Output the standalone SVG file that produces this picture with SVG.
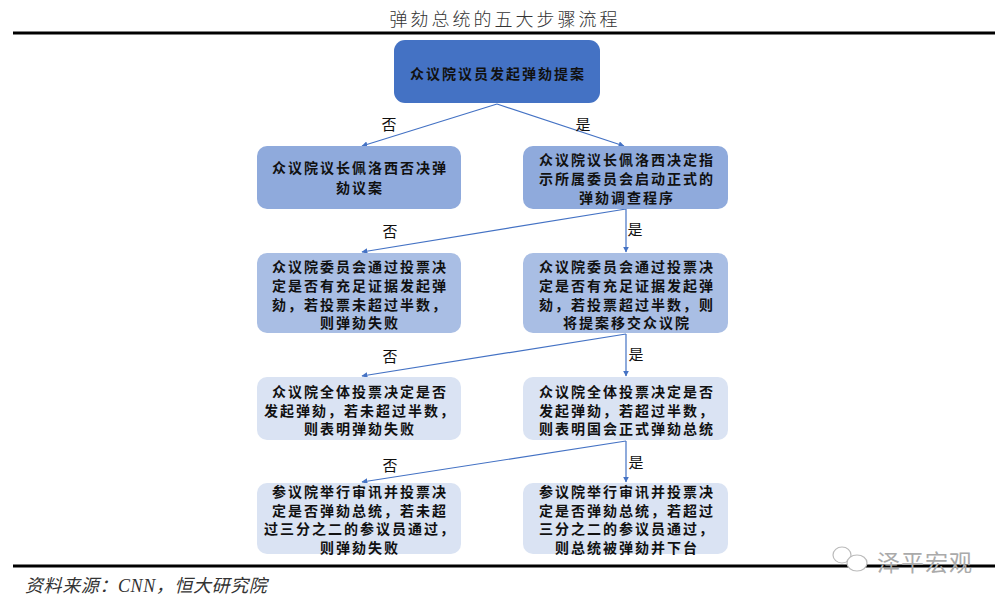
<svg xmlns="http://www.w3.org/2000/svg" width="1006" height="605" viewBox="0 0 1006 605">
<style>
.t{font-family:"Noto Sans CJK SC","Noto Sans",sans-serif;font-weight:700;font-size:14px;letter-spacing:2px;fill:#111;text-anchor:middle}
.lbl{font-family:"Noto Sans CJK SC",sans-serif;font-size:15px;fill:#111;text-anchor:middle}
.e{stroke:#4472C4;stroke-width:1.2;fill:none;marker-end:url(#ah)}
</style>
<defs>
<marker id="ah" viewBox="0 0 10 10" refX="9" refY="5" markerWidth="6" markerHeight="6" orient="auto" markerUnits="userSpaceOnUse">
<path d="M0,0 L10,5 L0,10 z" fill="#4472C4"/>
</marker>
</defs>
<rect width="1006" height="605" fill="#fff"/>
<text x="505" y="26" font-family="'Noto Sans CJK SC',sans-serif" font-size="18" font-weight="300" letter-spacing="3" fill="#333" text-anchor="middle">弹劾总统的五大步骤流程</text>
<line x1="13" y1="33" x2="995" y2="33" stroke="#000" stroke-width="3"/>
<line x1="13" y1="566" x2="995" y2="566" stroke="#000" stroke-width="3"/>

<g id="connectors">
<path class="e" d="M497,104 L362,146"/>
<path class="e" d="M497,104 L624,146"/>
<path class="e" d="M626,209 L362,252"/>
<path class="e" d="M626,209 L626,252"/>
<path class="e" d="M626,334 L362,376"/>
<path class="e" d="M626,334 L626,376"/>
<path class="e" d="M626,441 L362,482"/>
<path class="e" d="M626,441 L626,482"/>
<text class="lbl" x="389" y="130">否</text>
<text class="lbl" x="583" y="130">是</text>
<text class="lbl" x="390" y="237">否</text>
<text class="lbl" x="635" y="235">是</text>
<text class="lbl" x="390" y="362">否</text>
<text class="lbl" x="636" y="360">是</text>
<text class="lbl" x="390" y="471">否</text>
<text class="lbl" x="636" y="468">是</text>
</g>

<g id="n0">
<rect x="394" y="40" width="206" height="63" rx="11" fill="#4472C4"/>
<text class="t" x="498" y="79" font-size="15">众议院议员发起弹劾提案</text>
</g>
<g id="n1">
<rect x="257" y="146" width="204" height="63" rx="10" fill="#8FAADC"/>
<text class="t" x="360" y="173">众议院议长佩洛西否决弹</text>
<text class="t" x="360" y="193">劾议案</text>
</g>
<g id="n2">
<rect x="523" y="146" width="205" height="63" rx="10" fill="#8FAADC"/>
<text class="t" x="627" y="165">众议院议长佩洛西决定指</text>
<text class="t" x="627" y="184">示所属委员会启动正式的</text>
<text class="t" x="627" y="203">弹劾调查程序</text>
</g>
<g id="n3">
<rect x="257" y="253" width="204" height="80" rx="10" fill="#A9BEE4"/>
<text class="t" x="360" y="272">众议院委员会通过投票决</text>
<text class="t" x="360" y="291">定是否有充足证据发起弹</text>
<text class="t" x="360" y="310">劾，若投票未超过半数，</text>
<text class="t" x="360" y="328">则弹劾失败</text>
</g>
<g id="n4">
<rect x="523" y="253" width="205" height="80" rx="10" fill="#A9BEE4"/>
<text class="t" x="627" y="272">众议院委员会通过投票决</text>
<text class="t" x="627" y="291">定是否有充足证据发起弹</text>
<text class="t" x="627" y="310">劾，若投票超过半数，则</text>
<text class="t" x="627" y="328">将提案移交众议院</text>
</g>
<g id="n5">
<rect x="257" y="377" width="204" height="63" rx="10" fill="#DAE3F3"/>
<text class="t" x="360" y="397">众议院全体投票决定是否</text>
<text class="t" x="360" y="416">发起弹劾，若未超过半数，</text>
<text class="t" x="360" y="434">则表明弹劾失败</text>
</g>
<g id="n6">
<rect x="523" y="377" width="205" height="63" rx="10" fill="#DAE3F3"/>
<text class="t" x="627" y="397">众议院全体投票决定是否</text>
<text class="t" x="627" y="416">发起弹劾，若超过半数，</text>
<text class="t" x="627" y="434">则表明国会正式弹劾总统</text>
</g>
<g id="n7">
<rect x="257" y="483" width="204" height="71" rx="10" fill="#DAE3F3"/>
<text class="t" x="360" y="497">参议院举行审讯并投票决</text>
<text class="t" x="360" y="516">定是否弹劾总统，若未超</text>
<text class="t" x="360" y="534">过三分之二的参议员通过，</text>
<text class="t" x="360" y="553">则弹劾失败</text>
</g>
<g id="n8">
<rect x="523" y="483" width="205" height="71" rx="10" fill="#DAE3F3"/>
<text class="t" x="627" y="497">参议院举行审讯并投票决</text>
<text class="t" x="627" y="516">定是否弹劾总统，若超过</text>
<text class="t" x="627" y="534">三分之二的参议员通过，</text>
<text class="t" x="627" y="553">则总统被弹劾并下台</text>
</g>

<text x="25" y="592" font-family="'Liberation Serif','Noto Sans CJK SC',serif" font-style="italic" font-size="18" letter-spacing="0.6" fill="#333">资料来源：CNN，恒大研究院</text>

<g id="watermark" fill="none" stroke="#bbb" stroke-width="1.2">
<ellipse cx="842" cy="555" rx="9" ry="8"/>
<ellipse cx="857" cy="563" rx="10" ry="8" fill="#fff"/>
</g>
<text x="877" y="571" font-family="'Noto Sans CJK SC',sans-serif" font-size="23" fill="#aaa" letter-spacing="1">泽平宏观</text>
</svg>
